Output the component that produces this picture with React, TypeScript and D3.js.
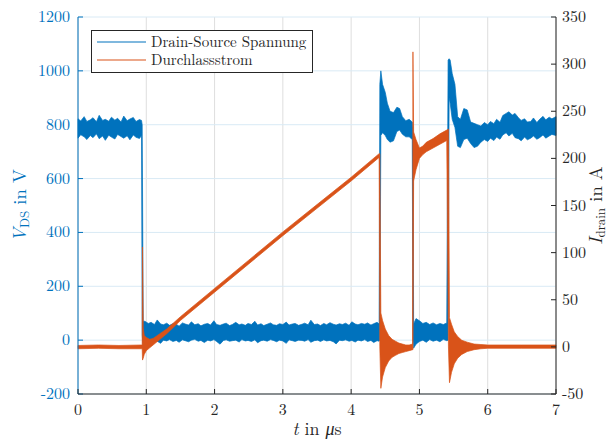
import React from 'react';
import * as d3 from 'd3';

// axis ticks
const xTicks = [0, 1, 2, 3, 4, 5, 6, 7];
const vdsTicks = [-200, 0, 200, 400, 600, 800, 1000, 1200];
const iTicks = [-50, 0, 50, 100, 150, 200, 250, 300, 350];

// Drain-Source voltage, drawn as the band between its lower and upper envelope (t in µs, V)
const vdsTime = [
  0, 0.04, 0.09, 0.13, 0.18, 0.22, 0.27, 0.31, 0.36, 0.4, 0.45, 0.49, 0.54, 0.58, 0.63, 0.67,
  0.72, 0.76, 0.81, 0.85, 0.9, 0.93,
  0.94, 0.955,
  0.98, 1.03, 1.07, 1.12, 1.16, 1.21, 1.25, 1.3, 1.34, 1.39, 1.44, 1.48, 1.53, 1.57, 1.62, 1.66,
  1.71, 1.76, 1.8, 1.85, 1.9, 1.94, 1.99, 2.03, 2.08, 2.13, 2.17, 2.22, 2.26, 2.31, 2.36, 2.4,
  2.45, 2.49, 2.54, 2.59, 2.63, 2.68, 2.72, 2.77, 2.82, 2.86, 2.91, 2.95, 3.0, 3.05, 3.09, 3.14,
  3.18, 3.23, 3.28, 3.32, 3.37, 3.41, 3.46, 3.51, 3.55, 3.6, 3.64, 3.69, 3.74, 3.78, 3.83, 3.87,
  3.92, 3.97, 4.01, 4.06, 4.1, 4.15, 4.2, 4.24, 4.29, 4.33, 4.38, 4.41,
  4.42, 4.435, 4.46, 4.5, 4.53, 4.57, 4.62, 4.67, 4.71, 4.75, 4.8, 4.85, 4.895,
  4.905, 4.915,
  4.95, 5.0, 5.05, 5.1, 5.15, 5.2, 5.25, 5.3, 5.35, 5.4,
  5.42, 5.435, 5.45, 5.48, 5.52, 5.56, 5.6, 5.65, 5.7, 5.75, 5.8, 5.85, 5.9, 5.95,
  6.0, 6.04, 6.09, 6.13, 6.18, 6.22, 6.27, 6.31, 6.36, 6.4, 6.45, 6.49, 6.54, 6.58, 6.63,
  6.67, 6.72, 6.76, 6.81, 6.85, 6.9, 6.94, 7.0,
];
const vdsHigh = [
  822, 814, 830, 812, 818, 826, 811, 835, 816, 820, 813, 828, 817, 824, 810, 832,
  815, 821, 827, 812, 819, 816,
  800, 70,
  70, 62, 66, 58, 75, 60, 57, 63, 55, 61, 59, 52, 64, 60, 56, 68,
  57, 61, 53, 59, 62, 56, 72, 58, 55, 60, 63, 54, 58, 66, 57, 60,
  55, 62, 58, 70, 56, 61, 54, 59, 64, 57, 55, 61, 58, 67, 56, 60,
  62, 55, 59, 63, 57, 74, 58, 60, 54, 62, 57, 65, 59, 56, 61, 58,
  63, 55, 68, 60, 57, 62, 59, 64, 56, 61, 66, 60,
  950, 1000, 950, 920, 880, 850, 845, 865, 860, 830, 815, 820, 810,
  790, 60,
  80, 72, 62, 66, 58, 64, 57, 62, 58, 64,
  1040, 1045, 1040, 990, 950, 830, 820, 860, 855, 810, 805, 800, 795, 808,
  800, 812, 804, 820, 809, 834, 842, 848, 836, 842, 826, 816, 822, 810, 812,
  825, 808, 820, 831, 818, 828, 822, 830,
];
const vdsLow = [
  750, 763, 755, 745, 760, 752, 766, 748, 758, 742, 761, 754, 747, 764, 756, 750,
  759, 744, 762, 753, 749, 760,
  20, -28,
  -10, -2, -6, 1, -4, -12, 0, -3, 2, -5, -1, -8, 1, -2, -6, 0,
  3, -4, -1, -9, 0, -3, 2, -5, -15, -1, 1, -4, -2, 0, -7, 2,
  -3, -1, -5, 1, -10, -2, 0, -4, 2, -1, -6, 0, -3, -12, 1, -2,
  -5, 0, -1, -4, 2, -8, -2, 0, -5, 1, -3, -1, -6, -14, 0, -2,
  1, -4, -1, -7, 0, -3, 2, -5, -1, -9, -2, -4,
  0, 760, 770, 760, 745, 735, 740, 775, 780, 765, 755, 755, 745,
  0, -30,
  -15, -5, 0, -8, 2, -4, 0, -6, 3, -2,
  0, 900, 880, 820, 790, 720, 715, 745, 750, 730, 715, 720, 735, 745,
  738, 750, 741, 754, 746, 762, 770, 758, 768, 752, 748, 740, 754, 744, 750,
  758, 746, 752, 762, 750, 758, 764, 760,
];

// Durchlassstrom (drain current), lower and upper envelope (t in µs, A)
const iTime = [
  0, 0.3, 0.6, 0.93, 0.94, 0.945, 0.955, 0.97, 1.0, 1.05, 1.1, 1.2, 1.3,
  1.5, 2.0, 2.5, 3.0, 3.5, 4.0, 4.41,
  4.42, 4.435, 4.46, 4.5, 4.55, 4.6, 4.65, 4.7, 4.75, 4.8, 4.85, 4.9,
  4.905, 4.915, 4.95, 5.0, 5.05, 5.1, 5.2, 5.3, 5.4,
  5.425, 5.44, 5.47, 5.51, 5.56, 5.62, 5.7, 5.8, 5.9, 6.0, 6.5, 7.0,
];
const iHigh = [
  1.5, 2, 1.5, 2, 2, 106, 20, 12, 10, 8, 9, 14, 19,
  32, 62, 92, 122, 151, 180, 205,
  205, 36, 28, 19, 12, 8, 6, 4, 3, 2, 2, 3,
  313, 228, 220, 211, 213, 217, 221, 226, 230,
  231, 31, 24, 16, 11, 7, 5, 3, 2.5, 2, 2, 2,
];
const iLow = [
  -2, -1.5, -2, -2, -2, -14, -12, -8, -4, -1, 2, 8, 14,
  28, 58, 88, 118, 147, 176, 201,
  0, -44, -32, -22, -15, -11, -9, -7, -6, -5, -4, -3,
  -3, 176, 188, 200, 204, 207, 211, 215, 219,
  0, -38, -27, -18, -12, -8, -5, -3, -2, -1.5, -1.5, -1.5,
];

const W = 609;
const H = 440;
const plot = { left: 78, right: 556, top: 17, bottom: 394 };
const blue = '#0072BD';
const orange = '#D95319';
const dark = '#262626';
const font = "'Latin Modern Roman', 'Liberation Serif', serif";

const App = () => {
  const x = d3.scaleLinear().domain([0, 7]).range([plot.left, plot.right]);
  const yV = d3.scaleLinear().domain([-200, 1200]).range([plot.bottom, plot.top]);
  const yI = d3.scaleLinear().domain([-50, 350]).range([plot.bottom, plot.top]);

  const vdsArea = d3.area<number>()
    .x((t) => x(t))
    .y0((_, i) => yV(vdsLow[i]))
    .y1((_, i) => yV(vdsHigh[i]));
  const iArea = d3.area<number>()
    .x((t) => x(t))
    .y0((_, i) => yI(iLow[i]))
    .y1((_, i) => yI(iHigh[i]));

  const fmt = (v: number) => (v < 0 ? '-' + Math.abs(v) : String(v));

  return (
    <svg
      width={W}
      height={H}
      style={{ position: 'fixed', left: 0, top: 0, background: '#fff', fontFamily: font }}
    >
      {/* grid */}
      {xTicks.map((t) => (
        <line key={'gx' + t} x1={x(t)} x2={x(t)} y1={plot.top} y2={plot.bottom} stroke="#dedede" strokeWidth={1} />
      ))}
      {vdsTicks.map((v) => (
        <line key={'gy' + v} x1={plot.left} x2={plot.right} y1={yV(v)} y2={yV(v)} stroke="#d9eaf5" strokeWidth={1} />
      ))}

      {/* data */}
      <path d={vdsArea(vdsTime) || ''} fill={blue} stroke={blue} strokeWidth={0.7} strokeLinejoin="round" />
      <path d={iArea(iTime) || ''} fill={orange} stroke={orange} strokeWidth={0.7} strokeLinejoin="round" />

      {/* left axis */}
      <line x1={plot.left} x2={plot.left} y1={plot.top} y2={plot.bottom} stroke={blue} strokeWidth={1} />
      {vdsTicks.map((v) => (
        <g key={'ly' + v}>
          <line x1={plot.left} x2={plot.left + 5} y1={yV(v)} y2={yV(v)} stroke={blue} />
          <text x={plot.left - 8} y={yV(v) + 5} textAnchor="end" style={{ fontSize: 16, fill: blue }}>
            {fmt(v)}
          </text>
        </g>
      ))}

      {/* right axis */}
      <line x1={plot.right} x2={plot.right} y1={plot.top} y2={plot.bottom} stroke={dark} strokeWidth={1} />
      {iTicks.map((v) => (
        <g key={'ry' + v}>
          <line x1={plot.right - 5} x2={plot.right} y1={yI(v)} y2={yI(v)} stroke={dark} />
          <text x={plot.right + 6} y={yI(v) + 5} textAnchor="start" style={{ fontSize: 16, fill: dark }}>
            {fmt(v)}
          </text>
        </g>
      ))}

      {/* bottom axis */}
      <line x1={plot.left} x2={plot.right} y1={plot.bottom} y2={plot.bottom} stroke={dark} strokeWidth={1} />
      {xTicks.map((t) => (
        <g key={'bx' + t}>
          <line x1={x(t)} x2={x(t)} y1={plot.bottom} y2={plot.bottom - 5} stroke={dark} />
          <text x={x(t)} y={415} textAnchor="middle" style={{ fontSize: 16, fill: dark }}>{t}</text>
        </g>
      ))}

      {/* axis labels */}
      <text x={317} y={435} textAnchor="middle" style={{ fontSize: 18, fill: dark }}>
        <tspan style={{ fontStyle: 'italic' }}>t</tspan> in <tspan style={{ fontStyle: 'italic' }}>μ</tspan>s
      </text>
      <text transform="translate(26,205.5) rotate(-90)" textAnchor="middle" style={{ fontSize: 18.5, fill: blue }}>
        <tspan style={{ fontStyle: 'italic' }}>V</tspan>
        <tspan dy={3} style={{ fontSize: 13 }}>DS</tspan>
        <tspan dy={-3}> in V</tspan>
      </text>
      <text transform="translate(602,205.5) rotate(-90)" textAnchor="middle" style={{ fontSize: 18.5, fill: dark }}>
        <tspan style={{ fontStyle: 'italic' }}>I</tspan>
        <tspan dy={2.5} style={{ fontSize: 13 }}>drain</tspan>
        <tspan dy={-2.5}> in A</tspan>
      </text>

      {/* legend */}
      <g>
        <rect x={91.5} y={30.5} width={221} height={42} fill="#fff" stroke={dark} strokeWidth={1} />
        <line x1={97} x2={146} y1={42} y2={42} stroke={blue} strokeWidth={1.2} />
        <text x={151} y={46.5} style={{ fontSize: 15, fill: dark }}>Drain-Source Spannung</text>
        <line x1={97} x2={146} y1={60} y2={60} stroke={orange} strokeWidth={1.2} />
        <text x={151} y={65} style={{ fontSize: 15, fill: dark }}>Durchlassstrom</text>
      </g>
    </svg>
  );
};

export default App;
